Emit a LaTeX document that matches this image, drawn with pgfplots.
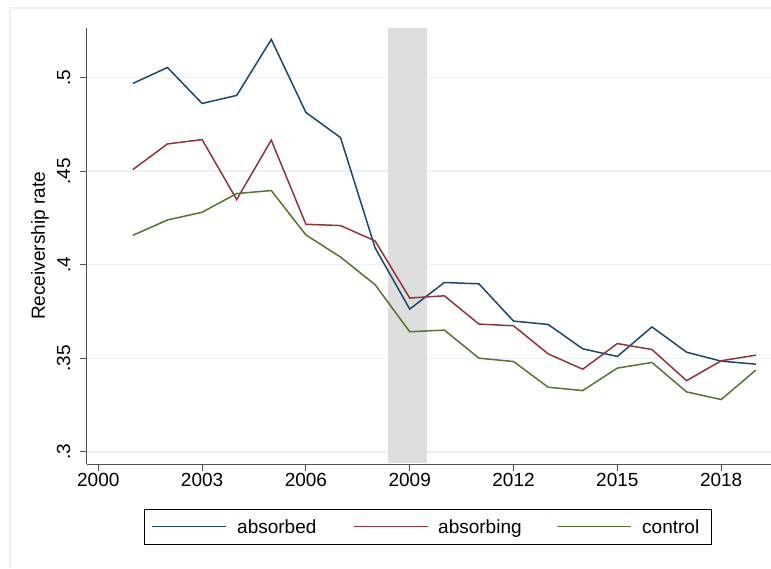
\documentclass[border=0pt]{standalone}
\usepackage{pgfplots}
\pgfplotsset{compat=1.18}
\usepackage{fontspec}
\setmainfont{Liberation Sans}

\definecolor{stnavy}{RGB}{26,71,111}
\definecolor{stmaroon}{RGB}{144,53,59}
\definecolor{stgreen}{RGB}{85,117,47}
\definecolor{stgrid}{RGB}{234,242,243}
\definecolor{stband}{RGB}{222,222,222}
\definecolor{staxis}{RGB}{80,80,80}

% year, absorbed, absorbing, control
\pgfplotstableread{
year absorbed absorbing control
2001 0.4968 0.4508 0.4157
2002 0.5053 0.4645 0.4239
2003 0.4861 0.4668 0.4280
2004 0.4904 0.4348 0.4380
2005 0.5203 0.4665 0.4396
2006 0.4813 0.4216 0.4159
2007 0.4679 0.4209 0.4041
2008 0.4090 0.4127 0.3893
2009 0.3763 0.3822 0.3642
2010 0.3905 0.3834 0.3651
2011 0.3898 0.3683 0.3501
2012 0.3699 0.3674 0.3483
2013 0.3681 0.3524 0.3346
2014 0.3551 0.3442 0.3328
2015 0.3510 0.3579 0.3448
2016 0.3668 0.3547 0.3478
2017 0.3533 0.3381 0.3321
2018 0.3485 0.3487 0.3280
2019 0.3469 0.3517 0.3437
}\rates

\begin{document}
\begin{tikzpicture}
  \fontsize{19}{22}\selectfont
  % faint outer frame
  \draw[stgrid, line width=2pt] (10pt,0pt) -- (10pt,560pt) -- (771pt,560pt);

  \begin{axis}[
    at={(86.5pt,103.7pt)}, anchor=south west,
    scale only axis,
    width=684.5pt, height=436.6pt,
    xmin=1999.66, xmax=2019.44,
    ymin=0.29343, ymax=0.52656,
    axis lines*=left,
    axis line style={staxis, line width=1.3pt},
    xtick={2000,2003,...,2018},
    ytick={0.3,0.35,0.4,0.45,0.5},
    yticklabels={.3,.35,.4,.45,.5},
    x tick label style={/pgf/number format/1000 sep={}},
    /pgf/number format/assume math mode=true,
    tick align=outside,
    major tick length=7pt,
    tick style={staxis, line width=1pt},
    xticklabel style={font=\fontsize{19}{22}\selectfont, inner sep=2pt},
    yticklabel style={font=\fontsize{19}{22}\selectfont, xshift=-7pt, rotate=90, anchor=south, inner sep=2pt},
    ymajorgrids,
    grid style={stgrid, line width=1.2pt},
    ylabel={Receivership rate},
    ylabel style={at={(axis description cs:-0.068,0.5)}, anchor=center, font=\fontsize{19}{22}\selectfont},
    clip=false,
  ]
  % shaded 2008/09 band
  \addplot[fill=stband, draw=none] coordinates {
    (2008.37,0.2940) (2009.50,0.2940) (2009.50,0.52656) (2008.37,0.52656)
  } -- cycle;

  \addplot[stnavy, line width=1.5pt] table[x=year, y=absorbed] {\rates};
  \addplot[stmaroon, line width=1.5pt] table[x=year, y=absorbing] {\rates};
  \addplot[stgreen, line width=1.5pt] table[x=year, y=control] {\rates};
  \end{axis}

  % legend
  \draw[black, line width=0.9pt] (144.5pt,24pt) rectangle (711pt,59pt);
  \draw[stnavy, line width=1.5pt] (152pt,41.5pt) -- (226pt,41.5pt);
  \draw[stmaroon, line width=1.5pt] (354pt,41.5pt) -- (428pt,41.5pt);
  \draw[stgreen, line width=1.5pt] (557pt,41.5pt) -- (631pt,41.5pt);
  \node[anchor=base west, inner sep=0pt] at (237pt,34.5pt) {absorbed};
  \node[anchor=base west, inner sep=0pt] at (438pt,34.5pt) {absorbing};
  \node[anchor=base west, inner sep=0pt] at (642pt,34.5pt) {control};

  \pgfresetboundingbox
  \path[use as bounding box] (0pt,0pt) rectangle (771pt,568pt);
\end{tikzpicture}
\end{document}
